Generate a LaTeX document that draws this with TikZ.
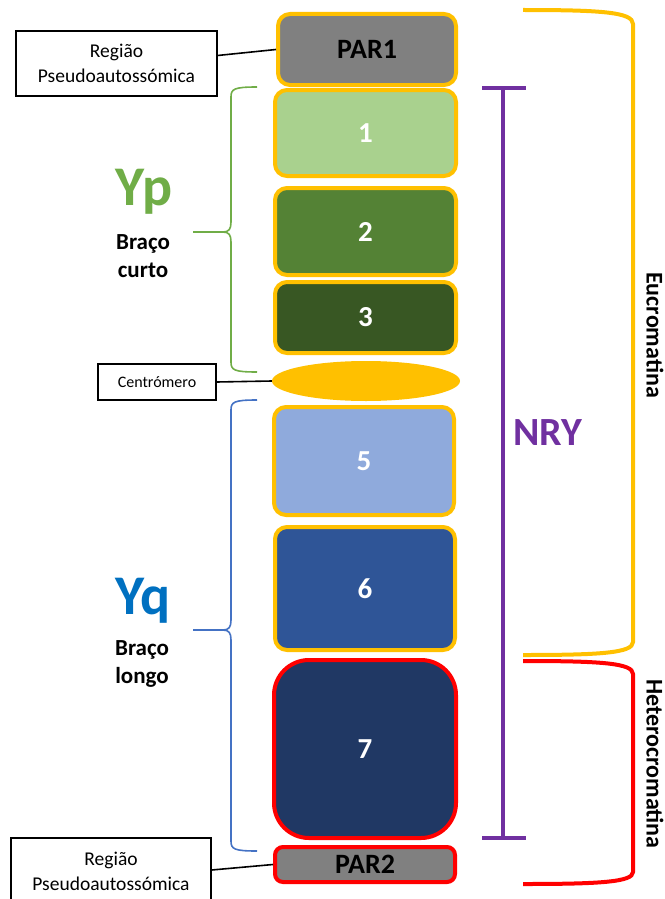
\documentclass[tikz,border=0pt]{standalone}
\usepackage{fontspec}
\setmainfont{Carlito}
\usetikzlibrary{shapes.geometric}
\definecolor{gold}{HTML}{FFC000}
\definecolor{grayfill}{HTML}{808080}
\definecolor{lgreen}{HTML}{A9D18E}
\definecolor{mgreen}{HTML}{548235}
\definecolor{dgreen}{HTML}{385723}
\definecolor{lblue}{HTML}{8FAADC}
\definecolor{mblue}{HTML}{2F5597}
\definecolor{dblue}{HTML}{203864}
\definecolor{bracegreen}{HTML}{70AD47}
\definecolor{braceblue}{HTML}{4472C4}
\definecolor{ytitle}{HTML}{0070C0}
\definecolor{purple}{HTML}{7030A0}
\definecolor{hred}{HTML}{FF0000}
\begin{document}
\begin{tikzpicture}[x=1pt,y=-1pt,
  seg/.style={draw=gold,line width=4pt,rounded corners=12pt,inner sep=0pt,
    font=\fontsize{29}{30}\selectfont\bfseries,text=white},
  hseg/.style={seg,draw=hred},
  label/.style={draw=black,line width=1.2pt,fill=white,inner sep=0pt,align=center,
    font=\fontsize{19.5}{25}\selectfont},
  link/.style={line width=1.6pt,black},
  brace/.style={line width=1.6pt},
  bigbrack/.style={line width=4pt,line cap=butt},
  armtitle/.style={font=\fontsize{56}{56}\selectfont\bfseries},
  armtext/.style={font=\fontsize{23}{28}\selectfont\bfseries,align=center},
  sidetext/.style={font=\fontsize{24}{26}\selectfont\bfseries,rotate=-90}
]
\useasboundingbox (0,0) rectangle (664,899);

% chromosome segments
\node[seg,fill=grayfill,text=black,font=\fontsize{28}{30}\selectfont\bfseries,minimum width=178pt,minimum height=71pt] (par1) at (367,49.5) {PAR1};
\node[seg,fill=lgreen,minimum width=181pt,minimum height=86pt] (b1) at (365.5,133) {1};
\node[seg,fill=mgreen,minimum width=181pt,minimum height=87pt] (b2) at (365.5,231.5) {2};
\node[seg,fill=dgreen,minimum width=181pt,minimum height=71pt] (b3) at (365.5,317.5) {3};
\node[ellipse,fill=gold,minimum width=188pt,minimum height=40pt,inner sep=0pt] (cen) at (366,381) {};
\node[seg,fill=lblue,minimum width=180pt,minimum height=108pt] (b5) at (364,461) {5};
\node[seg,fill=mblue,minimum width=180pt,minimum height=123pt] (b6) at (365,588.5) {6};
\node[hseg,fill=dblue,rounded corners=35pt,minimum width=182pt,minimum height=178pt] (b7) at (365,749) {7};
\node[hseg,fill=grayfill,text=black,font=\fontsize{28}{30}\selectfont\bfseries,rounded corners=8pt,minimum width=180pt,minimum height=35pt] (par2) at (365,864.5) {PAR2};

% side labels
\node[label,minimum width=201pt,minimum height=65pt] (lab1) at (116.5,63.5) {Região\\Pseudoautossómica};
\node[label,font=\fontsize{16}{20}\selectfont,minimum width=118pt,minimum height=36pt] (labc) at (157,382) {Centrómero};
\node[label,minimum width=200pt,minimum height=67pt] (lab2) at (111,871.5) {Região\\Pseudoautossómica};

\draw[link] ([yshift=8pt]lab1.east) -- (par1.west);
\draw[link] (labc.east) -- (cen.west);
\draw[link] ([yshift=1.5pt]lab2.east) -- (par2.west);

% short arm brace
\draw[brace,bracegreen] (257,87) .. controls (234,87) and (231,89) .. (231,97) -- (231,222)
  .. controls (231,229) and (229,232) .. (223,232) .. controls (229,232) and (231,235) .. (231,242)
  -- (231,362) .. controls (231,370) and (234,372) .. (257,372);
\draw[brace,bracegreen] (223,232) -- (193,232);
\node[armtitle,text=bracegreen] (yp) at (144,192) {Yp};
\node[armtext] (ypt) at (143,256) {Braço\\curto};

% long arm brace
\draw[brace,braceblue] (257,400) .. controls (234,400) and (231,402) .. (231,410) -- (231,620)
  .. controls (231,627) and (229,630) .. (223,630) .. controls (229,630) and (231,633) .. (231,640)
  -- (231,841) .. controls (231,849) and (234,851) .. (257,851);
\draw[brace,braceblue] (223,630) -- (193,630);
\node[armtitle,text=ytitle] (yq) at (143,601) {Yq};
\node[armtext] (yqt) at (142,664) {Braço\\longo};

% NRY bar
\coordinate (nrytop) at (503,88);
\coordinate (nrybot) at (503,838);
\draw[line width=4.5pt,purple] (nrytop) -- (nrybot);
\draw[line width=4.5pt,purple] ([xshift=-21pt]nrytop) -- ([xshift=23pt]nrytop);
\draw[line width=4.5pt,purple] ([xshift=-21pt]nrybot) -- ([xshift=23pt]nrybot);
\node[font=\fontsize{40}{40}\selectfont\bfseries,text=purple] (nry) at (548,433) {NRY};

% euchromatin / heterochromatin brackets
\draw[bigbrack,gold] (523,10) .. controls (600,10) and (633,12) .. (633,24) -- (633,642)
  .. controls (633,653) and (600,655) .. (523,655);
\draw[bigbrack,hred] (523,661) .. controls (600,661) and (633,663) .. (633,674) -- (633,872)
  .. controls (633,882) and (600,884) .. (523,884);
\node[sidetext] (euc) at (655,335) {Eucromatina};
\node[sidetext] (het) at (655,764) {Heterocromatina};
\end{tikzpicture}
\end{document}
